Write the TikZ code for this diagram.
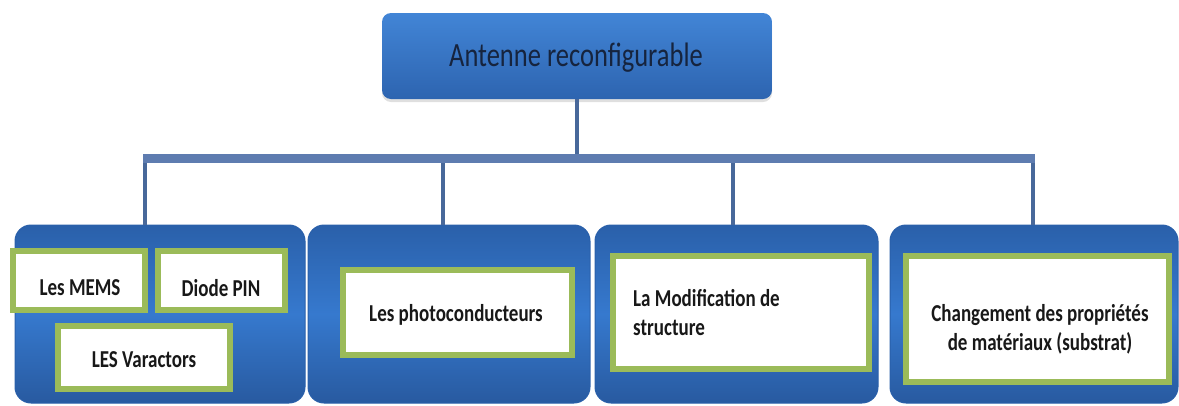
\documentclass[tikz,border=0pt]{standalone}
\usepackage{fontspec}
\usepackage{graphicx}
\setmainfont{Carlito}
\usetikzlibrary{shadows}

\definecolor{headtop}{RGB}{66,133,214}
\definecolor{headbot}{RGB}{45,100,176}
\definecolor{boxtop}{RGB}{42,96,170}
\definecolor{boxmid}{RGB}{54,121,206}
\definecolor{boxbot}{RGB}{40,90,160}
\definecolor{busblue}{RGB}{94,124,176}
\definecolor{dropblue}{RGB}{72,104,154}
\definecolor{leafgreen}{RGB}{155,187,89}
\definecolor{headtext}{RGB}{22,36,62}
\definecolor{leaftext}{RGB}{24,24,24}

% tall, slightly condensed lettering
\newcommand\talltext[1]{\scalebox{1}[1.28]{#1}}

\tikzset{
  headbox/.style={rectangle, rounded corners=9pt, top color=headtop, bottom color=headbot,
    draw=none, minimum width=390pt, minimum height=86pt, inner sep=0pt,
    drop shadow={opacity=0.25, shadow xshift=0pt, shadow yshift=-3pt}},
  groupbox/.style={rectangle, rounded corners=16pt, top color=boxtop, bottom color=boxbot,
    middle color=boxmid, draw=boxtop, line width=1pt, minimum height=178pt, inner sep=0pt},
  leafbox/.style={rectangle, draw=leafgreen, line width=6pt, fill=white, inner sep=0pt},
  leaflabel/.style={inner sep=0pt, text=leaftext, font=\fontsize{19}{23}\selectfont\bfseries},
  headlabel/.style={inner sep=0pt, text=headtext, font=\fontsize{26.5}{30}\selectfont},
  bus/.style={draw=busblue, line width=9pt},
  drop/.style={draw=dropblue, line width=4pt},
}

\begin{document}
\begin{tikzpicture}[x=1pt,y=-1pt]
\useasboundingbox (0,0) rectangle (1179,405);

% root
\node[headbox] (root) at (577,56) {};
\node[headlabel] (roottxt) at (576,57.5) {\talltext{Antenne reconfigurable}};

% four families of techniques
\node[groupbox, minimum width=290pt] (g1) at (160,314) {};
\node[groupbox, minimum width=282pt] (g2) at (449,314) {};
\node[groupbox, minimum width=283pt] (g3) at (736.5,314) {};
\node[groupbox, minimum width=288pt] (g4) at (1034,314) {};

% bus and its taps
\coordinate (d1) at (145,158);
\coordinate (d2) at (443,158);
\coordinate (d3) at (733,158);
\coordinate (d4) at (1033,158);
\coordinate (tap) at (577,158);

\draw[drop] (root.south) -- (tap);
\draw[drop] (d1) -- (d1 |- g1.north);
\draw[drop] (d2) -- (d2 |- g2.north);
\draw[drop] (d3) -- (d3 |- g3.north);
\draw[drop] (d4) -- (d4 |- g4.north);
\draw[bus, shorten <=-2pt, shorten >=-2pt] (d1) -- (d4);

% leaves
\node[leafbox, minimum width=132pt, minimum height=59pt] (mems) at (79,280.5) {};
\node[leafbox, minimum width=127pt, minimum height=59pt] (pin) at (221.5,280.5) {};
\node[leafbox, minimum width=172pt, minimum height=63pt] (var) at (144,357.5) {};
\node[leafbox, minimum width=229pt, minimum height=85pt] (photo) at (457.5,312.5) {};
\node[leafbox, minimum width=256pt, minimum height=113pt] (modif) at (741,312.5) {};
\node[leafbox, minimum width=263pt, minimum height=126pt] (chg) at (1037.5,319) {};

\node[leaflabel] (memstxt) at (80,288) {\talltext{Les MEMS}};
\node[leaflabel] (pintxt) at (221,288) {\talltext{Diode PIN}};
\node[leaflabel] (vartxt) at (144,360) {\talltext{LES Varactors}};
\node[leaflabel] (phototxt) at (456,315) {\talltext{Les photoconducteurs}};
\node[leaflabel, anchor=west] (modiftxt) at (633,315)
  {\talltext{\begin{tabular}{@{}l@{}}La Modification de\\structure\end{tabular}}};
\node[leaflabel] (chgtxt) at (1040,330)
  {\talltext{\begin{tabular}{@{}c@{}}Changement des propriétés\\de matériaux (substrat)\end{tabular}}};
\end{tikzpicture}
\end{document}
